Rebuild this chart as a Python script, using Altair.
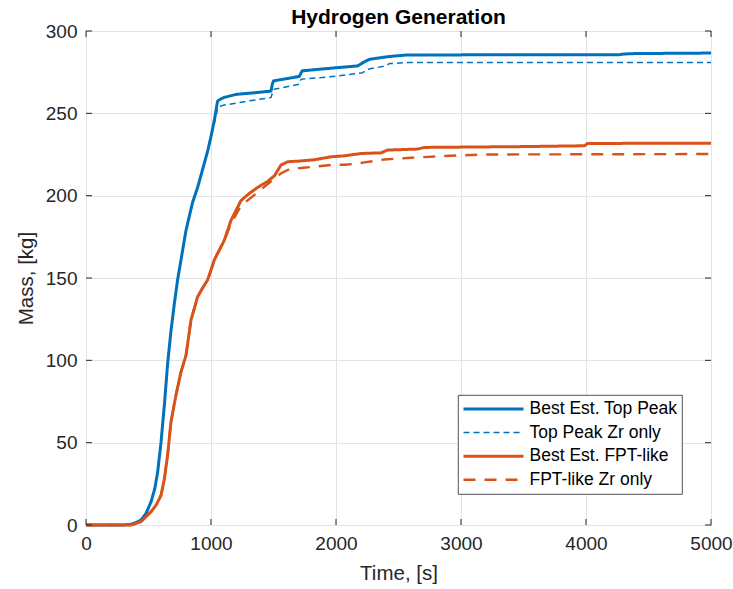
import altair as alt
import pandas as pd

# ---- data ----
chart_title = "Hydrogen Generation"
series_names = ["Best Est. Top Peak", "Top Peak Zr only", "Best Est. FPT-like", "FPT-like Zr only"]

t_top = [0, 300, 360, 400, 440, 480, 520, 550, 573, 600, 627, 653, 680, 707, 733, 760, 800,
         853, 893, 933, 973, 1000, 1027, 1053, 1080, 1107, 1200, 1350, 1480, 1490, 1500, 1600,
         1707, 1720, 1730, 1900, 2050, 2173, 2220, 2267, 2330, 2413, 2500, 2573, 3000, 3500,
         4000, 4267, 4300, 4387, 5000]
m_top = [0, 0, 0.5, 1.5, 3, 7, 14, 22, 32, 50, 73, 98, 118, 134.6, 149, 161, 179,
         196, 205, 216, 227, 236, 246, 257.5, 258.8, 259.7, 261.5, 262.5, 263.5, 267.5, 269.7, 271,
         272.4, 274.5, 275.8, 277, 278, 278.8, 281, 282.8, 283.5, 284.4, 285, 285.5, 285.5, 285.6,
         285.6, 285.6, 286, 286.3, 286.6]

t_topzr = [0, 300, 360, 400, 440, 480, 520, 550, 573, 600, 627, 653, 680, 707, 733, 760, 800,
           853, 893, 933, 973, 1000, 1027, 1053, 1080, 1107, 1300, 1480, 1490, 1505, 1707, 1720,
           2000, 2213, 2253, 2400, 2427, 2573, 5000]
m_topzr = [0, 0, 0.5, 1.5, 3, 7, 14, 22, 32, 50, 73, 98, 118, 134.6, 149, 161, 179,
           196, 205, 216, 227, 235, 244, 253, 254.5, 255, 257.5, 259.6, 262, 264.6, 267.7, 270.7,
           272.5, 274.7, 276.8, 278.8, 280.2, 280.8, 280.8]

t_fpt = [0, 360, 440, 520, 560, 600, 627, 653, 680, 720, 760, 800, 840, 893, 933, 973, 1027,
         1107, 1160, 1240, 1300, 1373, 1450, 1507, 1560, 1613, 1700, 1827, 1960, 2067, 2200,
         2360, 2413, 2653, 2707, 3500, 3987, 4013, 5000]
m_fpt = [0, 0, 2, 8, 12, 18, 28, 42.5, 62.7, 79, 93, 103, 124.5, 138.6, 144, 148.8, 161,
         173, 185, 197, 201, 205, 208.5, 212, 218.6, 220.6, 221, 221.8, 223.6, 224.2, 225.6,
         226, 227.7, 228.3, 229.3, 229.8, 230.3, 231.7, 231.9]

t_fptzr = [0, 360, 440, 520, 560, 600, 627, 653, 680, 720, 760, 800, 840, 893, 933, 973, 1027,
           1107, 1160, 1240, 1373, 1453, 1560, 1640, 1720, 1960, 2067, 2147, 2227, 2387, 2600,
           2840, 3187, 5000]
m_fptzr = [0, 0, 2, 8, 12, 18, 28, 42.5, 62.7, 79, 93, 103, 124.5, 138.6, 144, 148.8, 161,
           173, 183, 194, 202, 207, 213.5, 216.6, 216.8, 218.6, 218.8, 219.3, 220.2, 222, 223,
           224, 225, 225.3]

x_ticks = [0, 1000, 2000, 3000, 4000, 5000]
y_ticks = [0, 50, 100, 150, 200, 250, 300]

# ---- styles ----
series_colors = ["#0072BD", "#0072BD", "#D95319", "#D95319"]
series_dash = [[1, 0], [6, 4], [1, 0], [12, 9]]
series_width = [3, 1.5, 3, 2.4]

W, H = 625, 494
FONT = "Liberation Sans"
AX = "#262626"
GRID = "#e3e3e3"

rows = []
for name, ts, ms in zip(series_names,
                        [t_top, t_topzr, t_fpt, t_fptzr],
                        [m_top, m_topzr, m_fpt, m_fptzr]):
    for i, (t, m) in enumerate(zip(ts, ms)):
        rows.append({"series": name, "t": t, "m": m, "i": i})
df = pd.DataFrame(rows)

xscale = alt.Scale(domain=[0, 5000], nice=False, zero=False)
yscale = alt.Scale(domain=[0, 300], nice=False, zero=False)

x_axis = alt.Axis(values=x_ticks, format="d", title="Time, [s]", grid=True, ticks=False,
                  domain=False, labelFontSize=19, labelColor=AX, labelPadding=9, labelFont=FONT,
                  titleFontSize=20.5, titleFont=FONT, titleColor=AX, titleFontWeight="normal",
                  titlePadding=10, gridColor=GRID, labelFlush=False)
y_axis = alt.Axis(values=y_ticks, format="d", title="Mass, [kg]", grid=True, ticks=False,
                  domain=False, labelFontSize=19, labelColor=AX, labelPadding=9, labelFont=FONT,
                  titleFontSize=20.5, titleFont=FONT, titleColor=AX, titleFontWeight="normal",
                  titlePadding=9, gridColor=GRID, labelFlush=False)

leg = dict(title=None, orient="none", legendX=372, legendY=364, direction="vertical",
           fillColor="white", strokeColor=AX, padding=4,
           symbolType="stroke", symbolSize=3600, clipHeight=20, rowPadding=3.6,
           labelFontSize=17.5, labelFont=FONT, labelColor="black", labelOffset=4.5,
           labelLimit=300)

lines = alt.Chart(df).mark_line(strokeCap="butt", strokeJoin="round").encode(
    x=alt.X("t:Q", scale=xscale, axis=x_axis),
    y=alt.Y("m:Q", scale=yscale, axis=y_axis),
    color=alt.Color("series:N", scale=alt.Scale(domain=series_names, range=series_colors),
                    legend=alt.Legend(**leg)),
    strokeDash=alt.StrokeDash("series:N",
                              scale=alt.Scale(type="ordinal", domain=series_names, range=series_dash),
                              legend=alt.Legend(**leg)),
    strokeWidth=alt.StrokeWidth("series:N",
                                scale=alt.Scale(type="ordinal", domain=series_names, range=series_width),
                                legend=alt.Legend(**leg)),
    order="i:Q",
)

xt = pd.DataFrame({"v": x_ticks})
yt = pd.DataFrame({"v": y_ticks})
xb = alt.Chart(xt).mark_rule(color=AX, strokeWidth=1).encode(
    x=alt.X("v:Q", scale=xscale), y=alt.value(H), y2=alt.value(H - 6))
xtp = alt.Chart(xt).mark_rule(color=AX, strokeWidth=1).encode(
    x=alt.X("v:Q", scale=xscale), y=alt.value(0), y2=alt.value(6))
yl = alt.Chart(yt).mark_rule(color=AX, strokeWidth=1).encode(
    y=alt.Y("v:Q", scale=yscale), x=alt.value(0), x2=alt.value(6))
yr = alt.Chart(yt).mark_rule(color=AX, strokeWidth=1).encode(
    y=alt.Y("v:Q", scale=yscale), x=alt.value(W - 6), x2=alt.value(W))

title_mark = alt.Chart(pd.DataFrame({"txt": [chart_title]})).mark_text(
    font=FONT, fontSize=21, fontWeight="bold", color="black",
    align="center", baseline="alphabetic"
).encode(text="txt:N", x=alt.value(W / 2), y=alt.value(-7))

chart = alt.layer(lines, xb, xtp, yl, yr, title_mark).properties(
    width=W, height=H,
    background="white",
    autosize=alt.AutoSizeParams(type="none"),
    padding={"left": 86, "top": 31, "right": 22, "bottom": 64},
).configure_view(
    stroke=AX, strokeWidth=1
).configure_legend(
    strokeWidth=0.8
)

chart.save("out.html", embed_options={"renderer": "svg", "actions": False})
